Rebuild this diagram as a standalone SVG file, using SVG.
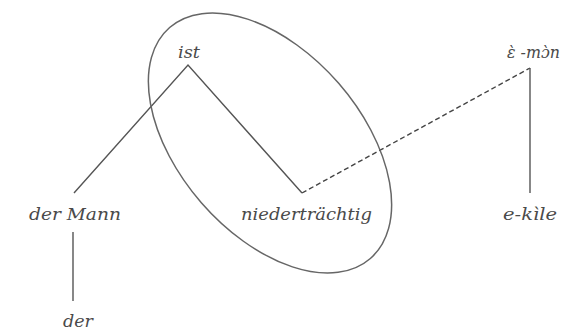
<svg xmlns="http://www.w3.org/2000/svg" width="564" height="331" viewBox="0 0 564 331">
<style>
.t{font-family:"DejaVu Serif","Liberation Serif",serif;font-style:italic;font-size:17px;fill:#4a4a4a}
.l{stroke:#555;stroke-width:1.4;fill:none}
.d{stroke:#444;stroke-width:1.4;fill:none;stroke-dasharray:5 3}
</style>
<rect width="564" height="331" fill="#fff"/>
<g id="connectors">
<path class="l" d="M74,193 L188,65 L302,193"/>
<path class="d" d="M302,193 L530,68"/>
<path class="l" d="M530,68 L530,193"/>
<path class="l" d="M73,232 L73,301"/>
</g>
<g id="ellipse"><ellipse cx="270" cy="143" rx="153" ry="91" transform="rotate(49 270 143)" fill="none" stroke="#666" stroke-width="1.5"/></g>
<g id="ist"><text class="t" x="178" y="58" textLength="22" lengthAdjust="spacingAndGlyphs">ist</text></g>
<g id="emon"><text class="t" x="507" y="58" textLength="53" lengthAdjust="spacingAndGlyphs">ɛ̀ -mɔ̀n</text></g>
<g id="derMann"><text class="t" x="29" y="220" textLength="92" lengthAdjust="spacingAndGlyphs">der Mann</text></g>
<g id="nieder"><text class="t" x="241" y="220" textLength="131" lengthAdjust="spacingAndGlyphs">niederträchtig</text></g>
<g id="ekile"><text class="t" x="503" y="220" textLength="54" lengthAdjust="spacingAndGlyphs">e-kìle</text></g>
<g id="der"><text class="t" x="63" y="327" textLength="30" lengthAdjust="spacingAndGlyphs">der</text></g>
</svg>
